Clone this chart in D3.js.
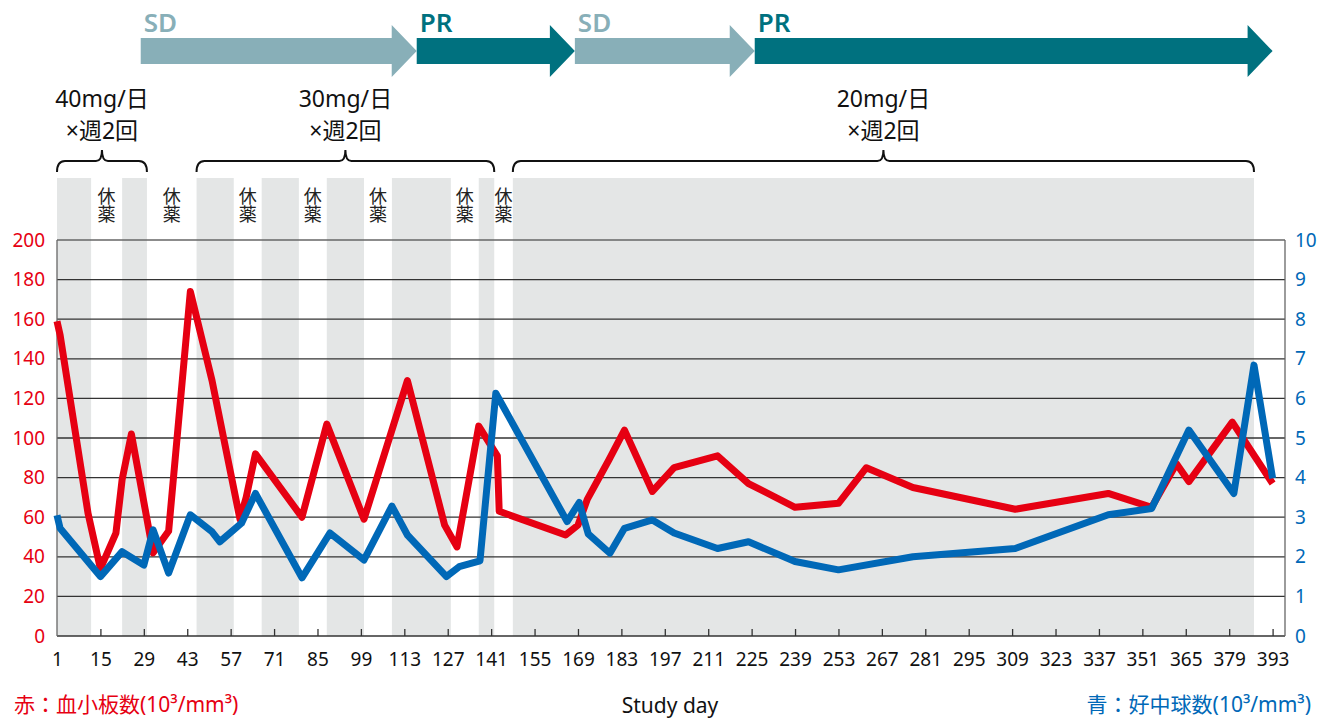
<!DOCTYPE html>
<html>
<head>
<meta charset="utf-8">
<script src="https://cdn.jsdelivr.net/npm/d3@7"></script>
<style>
  body { margin: 0; background: #fff; }
  svg { display: block; font-family: "Noto Sans", "Noto Sans CJK JP", sans-serif; }
</style>
</head>
<body>
<script>
// platelets (red, left axis) [study day, value]
const plateletData = [
  [1, 159], [2, 152], [11, 62], [15, 34], [20, 52], [22, 79], [25, 102], [32, 42],
  [37, 53], [44, 174], [51, 129], [60, 59], [62, 70], [65, 92], [80, 60], [88, 107],
  [100, 59], [114, 129], [126, 56], [130, 45], [137, 106], [143, 91], [143.6, 63],
  [165, 51], [169, 56], [172, 69], [179, 89], [184, 104], [193, 73], [200, 85],
  [214, 91], [224, 77], [239, 65], [253, 67], [262, 85], [277, 75], [310, 64],
  [340, 72], [354, 65], [362, 87], [366, 78], [380, 108], [393, 77]
];

// neutrophils (blue, right axis)
const neutrophilData = [
  [1, 3.05], [2, 2.72], [15, 1.5], [22, 2.13], [29, 1.79], [32, 2.68], [37, 1.59],
  [44, 3.06], [51, 2.63], [53.5, 2.38], [60.5, 2.85], [65, 3.6], [80, 1.47],
  [89, 2.6], [100, 1.92], [109, 3.28], [114, 2.55], [126.6, 1.5], [130.7, 1.75],
  [137.4, 1.9], [142.5, 6.13], [165.5, 2.89], [169.4, 3.37], [172.3, 2.58],
  [179.3, 2.09], [184, 2.72], [193, 2.93], [200, 2.6], [214, 2.21], [224, 2.38],
  [239, 1.88], [253, 1.67], [277, 2.0], [310, 2.21], [340, 3.06], [354, 3.22],
  [366, 5.2], [380.5, 3.6], [387, 6.84], [393, 3.98]
];

// dosing periods (grey) ; gaps are 休薬
const dosingBands = [[1, 12], [22, 30], [46, 58], [67, 79], [88, 100], [109, 128], [137, 142], [148, 387]];

// dose brackets
const doseGroups = [
  { start: 1, end: 30, line1: "40mg/日", line2: "×週2回" },
  { start: 46, end: 142, line1: "30mg/日", line2: "×週2回" },
  { start: 148, end: 387, line1: "20mg/日", line2: "×週2回" }
];

// response arrows
const phases = [
  { label: "SD", start: 28, end: 117 },
  { label: "PR", start: 117, end: 168 },
  { label: "SD", start: 168, end: 226 },
  { label: "PR", start: 226, end: 393 }
];

const dayTicks = d3.range(1, 394, 14);
const leftTicks = d3.range(0, 201, 20);
const rightTicks = d3.range(0, 11, 1);

const width = 1329;
const height = 720;
const plotLeft = 57, plotRight = 1285, plotTop = 240, plotBottom = 636;

const red = "#E60012";
const blue = "#0068B7";
const sdColor = "#88AFB8";
const prColor = "#00717F";

const svg = d3.select("body")
  .append("svg")
  .attr("width", width)
  .attr("height", height);

const xScale = d3.scaleLinear().domain([1, 397]).range([plotLeft, plotRight]);
const yLeft = d3.scaleLinear().domain([0, 200]).range([plotBottom, plotTop]);
const yRight = d3.scaleLinear().domain([0, 10]).range([plotBottom, plotTop]);

// grey bands
svg.append("g")
  .selectAll("rect")
  .data(dosingBands)
  .join("rect")
  .attr("x", d => xScale(d[0]))
  .attr("y", 178)
  .attr("width", d => xScale(d[1]) - xScale(d[0]))
  .attr("height", plotBottom - 178)
  .attr("fill", "#E4E6E6");

// 休薬 labels in the gaps (vertical text)
const gaps = [];
for (let i = 0; i < dosingBands.length - 1; i++) {
  gaps.push((dosingBands[i][1] + dosingBands[i + 1][0]) / 2);
}
svg.append("g")
  .selectAll("text")
  .data(gaps)
  .join("text")
  .attr("x", d => xScale(d))
  .attr("y", 187)
  .attr("writing-mode", "tb")
  .attr("font-family", "Noto Sans CJK JP")
  .attr("font-size", 18)
  .attr("fill", "#222")
  .text("休薬");

// horizontal grid
svg.append("g")
  .selectAll("line")
  .data(leftTicks)
  .join("line")
  .attr("x1", plotLeft)
  .attr("x2", plotRight)
  .attr("y1", d => yLeft(d))
  .attr("y2", d => yLeft(d))
  .attr("stroke", d => d === 200 ? "#666" : "#333")
  .attr("stroke-width", 1.3);

// frame sides
svg.append("line")
  .attr("x1", plotLeft).attr("x2", plotLeft).attr("y1", plotTop).attr("y2", plotBottom)
  .attr("stroke", "#666").attr("stroke-width", 1.3);
svg.append("line")
  .attr("x1", plotRight).attr("x2", plotRight).attr("y1", plotTop).attr("y2", plotBottom)
  .attr("stroke", "#666").attr("stroke-width", 1.3);

// x axis (ticks pointing up)
const xAxis = d3.axisBottom(xScale)
  .tickValues(dayTicks)
  .tickSize(-7)
  .tickPadding(17)
  .tickFormat(d => d);

const xg = svg.append("g")
  .attr("transform", "translate(0," + plotBottom + ")")
  .call(xAxis);
xg.select(".domain").remove();
xg.selectAll("line").attr("stroke", "#333").attr("stroke-width", 1.3)
  .filter(d => d === 1).remove();
xg.selectAll("text")
  .attr("font-size", 19)
  .attr("fill", "#111")
  .attr("font-family", "Noto Sans");

// left axis
const yAxisL = d3.axisLeft(yLeft).tickValues(leftTicks).tickSize(0).tickPadding(12);
const ylg = svg.append("g").attr("transform", "translate(" + plotLeft + ",0)").call(yAxisL);
ylg.select(".domain").remove();
ylg.selectAll("text").attr("font-size", 19).attr("fill", red).attr("font-family", "Noto Sans");

// right axis
const yAxisR = d3.axisRight(yRight).tickValues(rightTicks).tickSize(0).tickPadding(10);
const yrg = svg.append("g").attr("transform", "translate(" + plotRight + ",0)").call(yAxisR);
yrg.select(".domain").remove();
yrg.selectAll("text").attr("font-size", 19).attr("fill", blue).attr("font-family", "Noto Sans");

// lines
const redLine = d3.line().x(d => xScale(d[0])).y(d => yLeft(d[1]));
const blueLine = d3.line().x(d => xScale(d[0])).y(d => yRight(d[1]));

svg.append("path")
  .datum(plateletData)
  .attr("d", redLine)
  .attr("fill", "none")
  .attr("stroke", red)
  .attr("stroke-width", 7)
  .attr("stroke-linejoin", "round");

svg.append("path")
  .datum(neutrophilData)
  .attr("d", blueLine)
  .attr("fill", "none")
  .attr("stroke", blue)
  .attr("stroke-width", 7)
  .attr("stroke-linejoin", "round");

// dose brackets
const braceY = 161;
doseGroups.forEach(g => {
  const x1 = xScale(g.start), x2 = xScale(g.end), cx = (x1 + x2) / 2;
  const r = 8;
  const path = "M" + x1 + "," + (braceY + 11)
    + " Q" + x1 + "," + braceY + " " + (x1 + r) + "," + braceY
    + " L" + (cx - 6) + "," + braceY
    + " Q" + cx + "," + braceY + " " + cx + "," + (braceY - 11)
    + " Q" + cx + "," + braceY + " " + (cx + 6) + "," + braceY
    + " L" + (x2 - r) + "," + braceY
    + " Q" + x2 + "," + braceY + " " + x2 + "," + (braceY + 11);
  svg.append("path")
    .attr("d", path)
    .attr("fill", "none")
    .attr("stroke", "#111")
    .attr("stroke-width", 2);
  svg.append("text")
    .attr("x", cx).attr("y", 107)
    .attr("text-anchor", "middle")
    .attr("font-size", 23)
    .attr("fill", "#111")
    .text(g.line1);
  svg.append("text")
    .attr("x", cx).attr("y", 139)
    .attr("text-anchor", "middle")
    .attr("font-size", 23)
    .attr("fill", "#111")
    .text(g.line2);
});

// response arrows
const head = 25;
phases.forEach(p => {
  const x1 = xScale(p.start), x2 = xScale(p.end);
  const col = p.label === "SD" ? sdColor : prColor;
  const pts = [
    [x1, 38], [x2 - head, 38], [x2 - head, 25], [x2, 51],
    [x2 - head, 77], [x2 - head, 64], [x1, 64]
  ];
  svg.append("polygon")
    .attr("points", pts.map(q => q.join(",")).join(" "))
    .attr("fill", col);
  svg.append("text")
    .attr("x", x1 + 3)
    .attr("y", 32)
    .attr("font-size", 26)
    .attr("font-weight", 600)
    .attr("fill", col)
    .text(p.label);
});

// bottom labels
svg.append("text")
  .attr("x", 14).attr("y", 712)
  .attr("font-size", 21)
  .attr("fill", red)
  .text("赤：血小板数(10³/mm³)");

svg.append("text")
  .attr("x", 670).attr("y", 713)
  .attr("text-anchor", "middle")
  .attr("font-size", 21)
  .attr("fill", "#111")
  .text("Study day");

svg.append("text")
  .attr("x", 1311).attr("y", 712)
  .attr("text-anchor", "end")
  .attr("font-size", 21)
  .attr("fill", blue)
  .text("青：好中球数(10³/mm³)");
</script>
</body>
</html>
